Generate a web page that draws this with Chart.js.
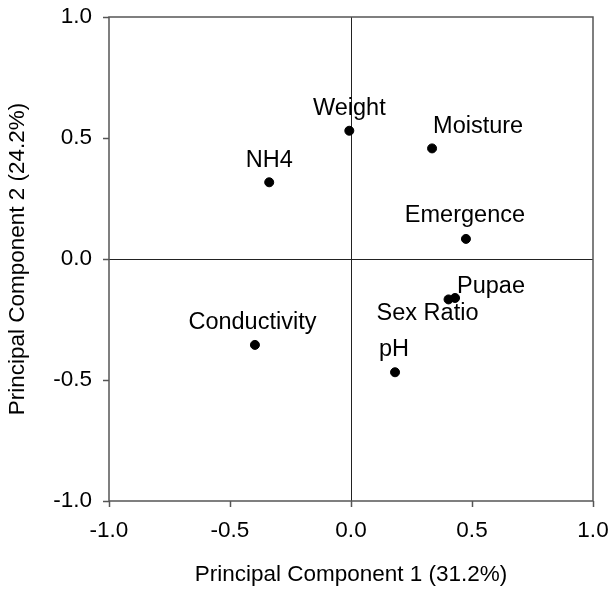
<!DOCTYPE html>
<html><head><meta charset="utf-8">
<script src="https://cdn.jsdelivr.net/npm/chart.js@4"></script>
<style>html,body{margin:0;padding:0;background:#fff}#wrap{width:610px;height:590px}</style>
</head><body><div id="wrap"><canvas id="c" width="610" height="590"></canvas></div>
<script>
const variables = ['Weight','Moisture','NH4','Emergence','Pupae','Sex Ratio','pH','Conductivity'];
const pc1 = [-0.007, 0.335, -0.338, 0.475, 0.43, 0.403, 0.182, -0.397];
const pc2 = [0.53, 0.457, 0.317, 0.083, -0.161, -0.167, -0.468, -0.355];
const axisTicks = [-1.0, -0.5, 0.0, 0.5, 1.0];
const xTitle = 'Principal Component 1 (31.2%)';
const yTitle = 'Principal Component 2 (24.2%)';

const FONT = "'Liberation Sans', Arial, sans-serif";

// label placement (style only): offset of cap-middle from the point
const labelPlacement = {
  'Weight':       {dx: 0,   dy: -24.5, align: 'center'},
  'Moisture':     {dx: 1,   dy: -23.5, align: 'left'},
  'NH4':          {dx: 0,   dy: -24,   align: 'center'},
  'Emergence':    {dx: -1,  dy: -25,   align: 'center'},
  'Pupae':        {dx: 2,   dy: -13,   align: 'left'},
  'Sex Ratio':    {dx: -21, dy: 12,    align: 'center'},
  'pH':           {dx: -1,  dy: -25,   align: 'center'},
  'Conductivity': {dx: -2.5,dy: -24,   align: 'center'}
};

const framePlugin = {
  id: 'frame',
  afterDraw(chart) {
    const {ctx, chartArea: a} = chart;
    ctx.save();
    ctx.strokeStyle = '#555';
    ctx.lineWidth = 1.5;
    ctx.strokeRect(a.left, a.top, a.right - a.left, a.bottom - a.top);
    ctx.restore();
  }
};

const labelPlugin = {
  id: 'pointLabels',
  afterDatasetsDraw(chart) {
    const ctx = chart.ctx;
    const meta = chart.getDatasetMeta(0);
    const size = 23.5;
    ctx.save();
    ctx.font = size + 'px ' + FONT;
    ctx.fillStyle = '#000';
    ctx.textBaseline = 'alphabetic';
    meta.data.forEach((pt, i) => {
      const name = variables[i];
      const p = labelPlacement[name] || {dx: 0, dy: -24, align: 'center'};
      ctx.textAlign = p.align;
      ctx.fillText(name, pt.x + p.dx, pt.y + p.dy + 0.358 * size);
    });
    ctx.restore();
  }
};

const gridCfg = {
  color: (c) => (c.tick && c.tick.value === 0) ? '#222' : 'rgba(0,0,0,0)',
  lineWidth: 1,
  drawTicks: true,
  tickColor: '#555',
  tickLength: 6,
  tickWidth: 1.5
};

function noOverflow(s) {
  s.paddingLeft = 0; s.paddingRight = 0; s.paddingTop = 0; s.paddingBottom = 0;
}

new Chart(document.getElementById('c'), {
  type: 'scatter',
  data: {
    datasets: [{
      data: variables.map((v, i) => ({x: pc1[i], y: pc2[i]})),
      backgroundColor: '#000',
      borderColor: '#000',
      pointRadius: 4.5,
      pointHoverRadius: 4.5
    }]
  },
  options: {
    responsive: false,
    devicePixelRatio: 1,
    animation: false,
    events: [],
    layout: {padding: {top: 17, right: 17, left: 0, bottom: 0}},
    plugins: {legend: {display: false}, tooltip: {enabled: false}},
    scales: {
      x: {
        type: 'linear', min: -1, max: 1,
        afterBuildTicks: (s) => { s.ticks = axisTicks.map(v => ({value: v})); },
        afterFit: (s) => { s.height = 89; noOverflow(s); },
        grid: gridCfg,
        border: {display: false},
        ticks: {
          color: '#000', padding: 10, maxRotation: 0, autoSkip: false,
          font: {family: FONT, size: 22.5},
          callback: (v) => Number(v).toFixed(1)
        },
        title: {display: true, text: xTitle, color: '#000',
          font: {family: FONT, size: 22.5, lineHeight: 1.2},
          padding: {top: 0, bottom: 2}}
      },
      y: {
        type: 'linear', min: -1, max: 1,
        afterBuildTicks: (s) => { s.ticks = axisTicks.map(v => ({value: v})); },
        afterFit: (s) => { s.width = 109; noOverflow(s); },
        grid: gridCfg,
        border: {display: false},
        ticks: {
          color: '#000', padding: 11, autoSkip: false,
          font: {family: FONT, size: 22.5},
          callback: (v) => Number(v).toFixed(1)
        },
        title: {display: true, text: yTitle, color: '#000',
          font: {family: FONT, size: 22.5, lineHeight: 1.2},
          padding: {top: 4.5, bottom: 0}}
      }
    }
  },
  plugins: [framePlugin, labelPlugin]
});
</script>
</body></html>
